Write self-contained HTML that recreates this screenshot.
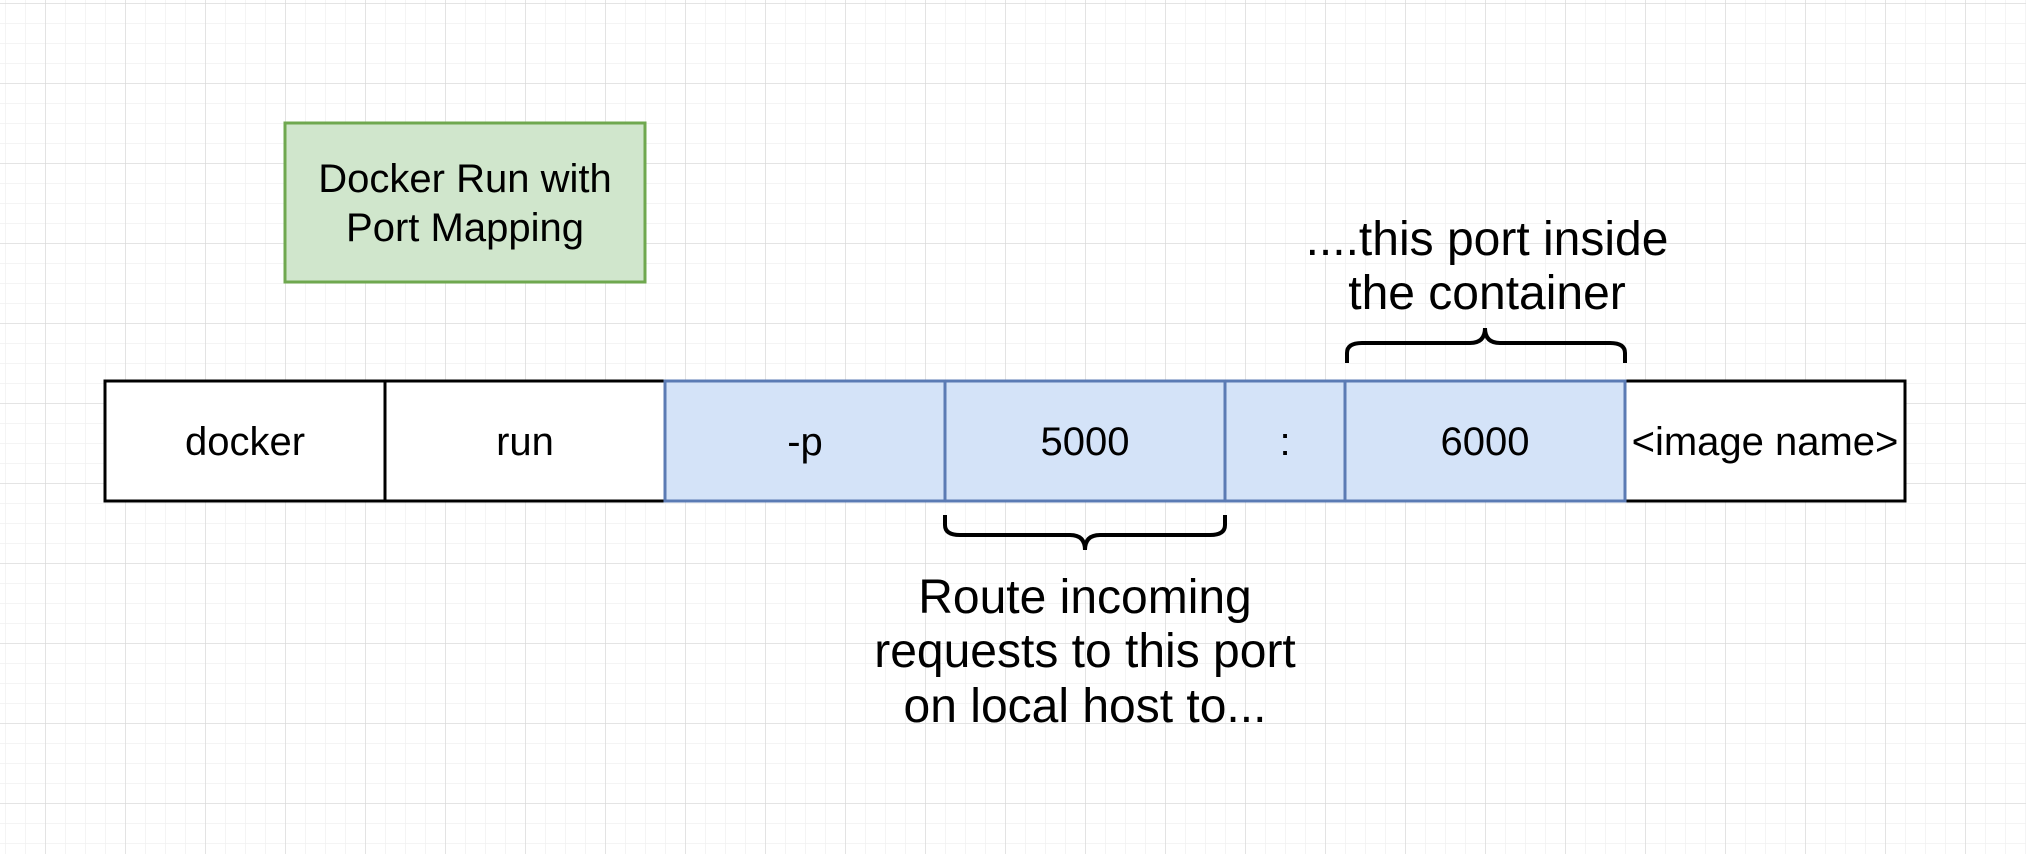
<!DOCTYPE html>
<html><head><style>
html,body{margin:0;padding:0;background:#fff;}
svg{display:block;}
text{font-family:"Liberation Sans",Arial,sans-serif;fill:#000;}
</style></head><body>
<svg width="2026" height="854" viewBox="0 0 2026 854" xmlns="http://www.w3.org/2000/svg">
<defs>
<pattern id="minor" width="20" height="20" patternUnits="userSpaceOnUse" x="5" y="3">
<path d="M0 0H20M0 0V20" stroke="#f0f0f0" stroke-width="1.5" fill="none"/>
</pattern>
<pattern id="major" width="80" height="80" patternUnits="userSpaceOnUse" x="45" y="3">
<path d="M0 0H80M0 0V80" stroke="#d8d8d8" stroke-width="1.3" fill="none"/>
</pattern>
</defs>
<rect width="2026" height="854" fill="url(#minor)"/>
<rect width="2026" height="854" fill="url(#major)"/>

<rect x="285" y="123" width="360" height="159" fill="#d0e6cc" stroke="#6fa84f" stroke-width="3"/>
<text x="465" y="192" font-size="40" text-anchor="middle">Docker Run with</text>
<text x="465" y="241" font-size="40" text-anchor="middle">Port Mapping</text>

<g stroke-width="3">
<rect x="665" y="381" width="960" height="120" fill="#d4e3f8" stroke="none"/>
<rect x="105" y="381" width="280" height="120" fill="#fff" stroke="#000"/>
<rect x="385" y="381" width="280" height="120" fill="#fff" stroke="#000"/>
<rect x="1625" y="381" width="280" height="120" fill="#fff" stroke="#000"/>
<rect x="665" y="381" width="280" height="120" fill="none" stroke="#5b7bb4"/>
<rect x="945" y="381" width="280" height="120" fill="none" stroke="#5b7bb4"/>
<rect x="1225" y="381" width="120" height="120" fill="none" stroke="#5b7bb4"/>
<rect x="1345" y="381" width="280" height="120" fill="none" stroke="#5b7bb4"/>
</g>
<g font-size="40" text-anchor="middle">
<text x="245" y="455">docker</text>
<text x="525" y="455">run</text>
<text x="805" y="455">-p</text>
<text x="1085" y="455">5000</text>
<text x="1285" y="455">:</text>
<text x="1485" y="455">6000</text>
<text x="1765" y="455">&lt;image name&gt;</text>
</g>

<path d="M945 515 V525 Q945 535 960 535 H1070 Q1085 535 1085 550 Q1085 535 1100 535 H1210 Q1225 535 1225 525 V515" fill="none" stroke="#000" stroke-width="4"/>
<path d="M1347 363 V353 Q1347 343 1362 343 H1470 Q1485 343 1485 328 Q1485 343 1500 343 H1610 Q1625 343 1625 353 V363" fill="none" stroke="#000" stroke-width="4"/>

<g font-size="48" text-anchor="middle">
<text x="1487" y="255">....this port inside</text>
<text x="1487" y="309">the container</text>
<text x="1085" y="613">Route incoming</text>
<text x="1085" y="667">requests to this port</text>
<text x="1085" y="722">on local host to...</text>
</g>
</svg>
</body></html>
